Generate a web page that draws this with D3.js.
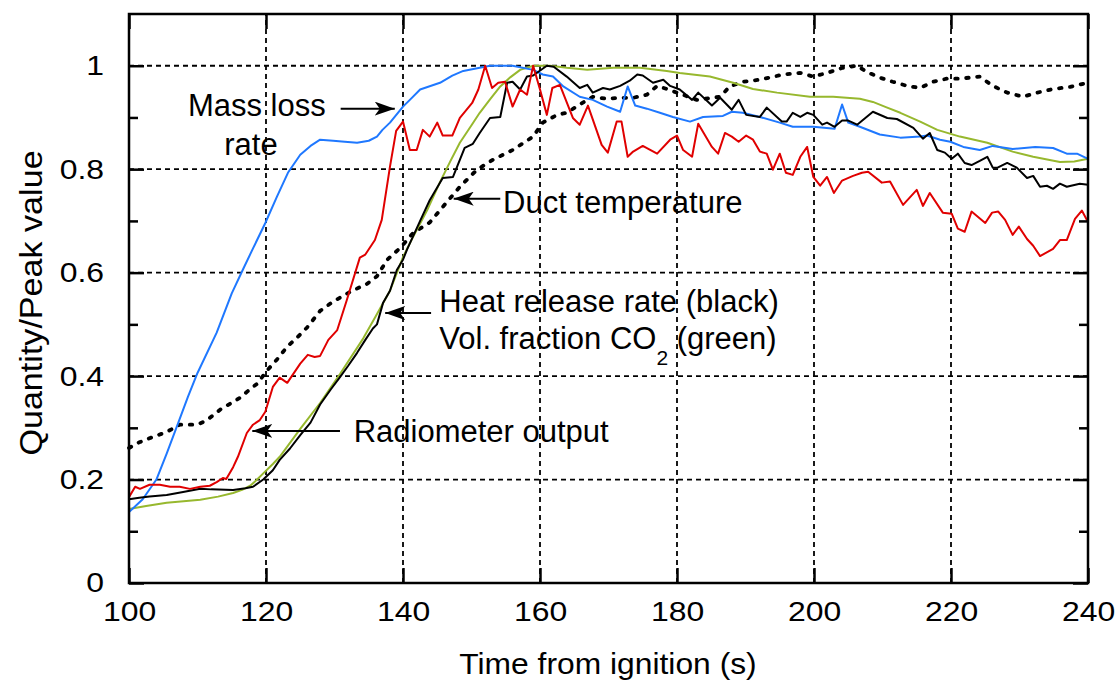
<!DOCTYPE html>
<html>
<head>
<meta charset="utf-8">
<script src="https://cdn.jsdelivr.net/npm/d3@7"></script>
<style>
  html, body { margin: 0; padding: 0; background: #fff; }
  svg text { font-family: "Liberation Sans", Arial, sans-serif; fill: #000; }
</style>
</head>
<body>
<div id="display"></div>
<script>
// Chart values (time in s, value as fraction of peak)
const xTicks = [100, 120, 140, 160, 180, 200, 220, 240];
const yTicks = [0, 0.2, 0.4, 0.6, 0.8, 1];
const yMinorTicks = [0.1, 0.3, 0.5, 0.7, 0.9];

const massLoss = [
  [100,0.137],[102,0.162],[104,0.2],[105.5,0.25],[107.2,0.31],[108.6,0.36],[110,0.406],[112.8,0.484],[115,0.56],
  [116.6,0.605],[118,0.644],[119.9,0.696],[121.6,0.747],[123.2,0.793],[125,0.828],[126.5,0.845],[127.9,0.857],
  [129.8,0.855],[131.5,0.853],[133.3,0.851],[135,0.855],[136.2,0.863],[137,0.876],[138.1,0.89],[140,0.921],
  [141,0.934],[142.5,0.954],[145.4,0.967],[147.2,0.981],[148.8,0.99],[151.2,0.996],[152.7,1.0],[156,1.0],
  [159,0.992],[160.4,0.983],[161.9,0.979],[163.4,0.96],[165.8,0.94],[167.7,0.934],[169.8,0.921],[171.7,0.911],
  [172.8,0.96],[173.9,0.923],[175.6,0.917],[177.5,0.909],[179.4,0.901],[181.9,0.892],[183.8,0.901],[186.7,0.903],
  [188,0.911],[189.6,0.909],[192.1,0.901],[195,0.89],[196.9,0.882],[199.9,0.882],[203,0.878],[204.1,0.925],
  [205,0.89],[206.7,0.882],[209.6,0.867],[212.6,0.861],[215.5,0.863],[216.5,0.865],[218.4,0.857],[219.9,0.853],
  [221.8,0.843],[224.2,0.837],[226.1,0.845],[229,0.839],[232.3,0.843],[234.9,0.841],[236.9,0.83],[238.4,0.83],[240,0.82]
];

const co2 = [
  [100,0.143],[102.5,0.149],[105.5,0.155],[110.4,0.161],[113,0.167],[115.2,0.174],[116.5,0.18],[117.7,0.188],
  [118.7,0.2],[119.6,0.212],[121,0.23],[122,0.244],[125,0.298],[127.9,0.348],[130.8,0.404],[134.2,0.473],
  [136,0.515],[138.1,0.565],[140,0.63],[141.5,0.67],[143.5,0.72],[145.4,0.775],[146.9,0.815],[148.3,0.851],
  [150,0.885],[151.2,0.909],[152.7,0.935],[154.2,0.96],[155.7,0.978],[157.1,0.992],[159,1.0],[161.5,1.0],
  [163.9,0.996],[166.9,0.992],[170.7,0.996],[174.6,0.996],[178.5,0.99],[180.4,0.986],[184.8,0.979],[188.2,0.967],
  [191.1,0.955],[194.6,0.948],[199.4,0.94],[202.8,0.94],[206.7,0.936],[208.6,0.93],[210.5,0.92],[212.6,0.909],
  [215.5,0.892],[218,0.876],[221.3,0.863],[225.3,0.851],[229,0.834],[232,0.824],[235.9,0.814],[238,0.815],[240,0.82]
];

const heatRelease = [
  [100,0.162],[101.5,0.165],[103,0.167],[105.5,0.17],[107.9,0.176],[110.4,0.182],[112,0.181],[115.2,0.18],
  [117,0.183],[118.1,0.186],[119.6,0.2],[121,0.218],[122,0.238],[123.5,0.26],[125,0.286],[126.5,0.31],
  [127.9,0.345],[129.5,0.375],[130.8,0.398],[132,0.42],[133.3,0.445],[134.5,0.47],[135.6,0.492],[136.2,0.5],
  [137.1,0.542],[138.1,0.565],[139.1,0.605],[140,0.625],[140.6,0.645],[142.5,0.7],[143.9,0.74],[145.8,0.783],
  [147.3,0.785],[149,0.841],[150.2,0.849],[151.2,0.87],[152.7,0.899],[154.2,0.901],[155.2,0.967],[156,0.969],
  [157.1,0.954],[158.1,0.979],[159,0.981],[161,1.0],[162,0.998],[163.9,0.979],[165.8,0.957],[166.9,0.963],
  [167.7,0.948],[169.2,0.957],[170.2,0.954],[171.7,0.961],[173.1,0.971],[174.2,0.983],[175,0.981],[176.5,0.967],
  [178,0.973],[179,0.961],[180.4,0.954],[182.2,0.934],[183.1,0.948],[185.1,0.923],[186.3,0.938],[188,0.915],
  [189,0.934],[190.1,0.905],[192.1,0.901],[193.1,0.919],[195.3,0.892],[196,0.892],[196.9,0.909],[198,0.901],
  [199,0.909],[199.9,0.905],[201.2,0.886],[201.9,0.89],[203,0.882],[204.1,0.894],[205,0.894],[206.3,0.886],
  [208.6,0.911],[210.7,0.899],[212.1,0.897],[214.5,0.88],[215.9,0.859],[216.9,0.87],[218,0.837],[219.1,0.832],
  [220.1,0.82],[221,0.83],[222,0.812],[223,0.808],[224.2,0.816],[225.3,0.824],[226.1,0.803],[226.8,0.803],
  [228.2,0.812],[229.6,0.803],[231.1,0.783],[232,0.787],[233,0.766],[234,0.768],[234.9,0.762],[235.9,0.772],
  [236.9,0.766],[238.8,0.772],[240,0.77]
];

const radiometer = [
  [100,0.166],[100.9,0.186],[101.6,0.182],[103,0.19],[104.5,0.19],[106,0.186],[107.4,0.186],[108.9,0.182],
  [110.4,0.186],[111.8,0.188],[112.8,0.195],[113.7,0.203],[114.2,0.201],[115.2,0.224],[115.9,0.244],[117.2,0.29],
  [118.1,0.306],[119.1,0.315],[119.9,0.331],[121,0.379],[122,0.397],[123.1,0.387],[125,0.424],[126.1,0.441],
  [127.1,0.437],[127.9,0.439],[129.1,0.47],[130.4,0.489],[131.8,0.547],[133.7,0.629],[134.5,0.635],[135.9,0.663],
  [136.9,0.702],[138.1,0.805],[139,0.874],[140,0.892],[141,0.837],[142,0.837],[142.9,0.876],[143.9,0.863],
  [145,0.89],[145.8,0.865],[147.2,0.865],[148.3,0.899],[150.1,0.928],[151,0.954],[152,1.0],[153,0.957],
  [153.9,0.967],[154.9,0.969],[156,0.921],[157.1,0.954],[158.1,0.944],[159,1.0],[160,0.954],[161,0.905],
  [161.8,0.957],[162.9,0.963],[164.8,0.899],[165.8,0.886],[167,0.923],[169,0.847],[169.9,0.832],[171.2,0.892],
  [171.9,0.892],[172.8,0.824],[173.6,0.834],[175,0.845],[177.1,0.83],[179,0.857],[180,0.865],[180.9,0.837],
  [182.2,0.824],[183.1,0.888],[185.1,0.843],[186,0.83],[187,0.87],[188,0.863],[189,0.853],[190.1,0.865],
  [191.1,0.857],[192.1,0.834],[193.1,0.83],[194,0.799],[195,0.83],[195.9,0.793],[196.9,0.789],[198,0.824],
  [199,0.843],[199.9,0.785],[200.9,0.768],[201.9,0.785],[202.9,0.754],[204.1,0.778],[205.7,0.787],[207,0.793],
  [207.9,0.795],[209.9,0.774],[211.1,0.776],[213,0.731],[215,0.76],[215.9,0.729],[216.9,0.754],[218.8,0.716],
  [220.1,0.714],[221,0.685],[222,0.679],[223,0.718],[225,0.696],[226,0.716],[226.9,0.718],[227.9,0.702],
  [229,0.673],[229.9,0.689],[231.1,0.665],[232,0.652],[233,0.632],[234.9,0.646],[235.9,0.663],[236.9,0.663],
  [238.1,0.704],[239.1,0.72],[240,0.698]
];

const ductTemp = [
  [100,0.261],[101.5,0.272],[103,0.28],[105.5,0.292],[107.4,0.306],[110,0.306],[111.4,0.315],[113.3,0.335],
  [116.2,0.358],[117.7,0.375],[118.7,0.385],[120.1,0.41],[121.6,0.432],[123.1,0.457],[124.5,0.474],[126,0.494],
  [127.9,0.526],[129.8,0.544],[132.3,0.563],[134.7,0.578],[136.2,0.593],[137.7,0.625],[139.6,0.648],[141.5,0.677],
  [143.9,0.697],[145.8,0.727],[148.3,0.766],[150.8,0.799],[153.1,0.818],[156,0.837],[159,0.863],[160.4,0.89],
  [162.5,0.905],[163.9,0.909],[165.8,0.925],[167.7,0.94],[169.8,0.936],[171.7,0.938],[173.6,0.938],[175.6,0.944],
  [177.1,0.961],[178.5,0.955],[180,0.948],[182.9,0.934],[186.3,0.94],[187.7,0.96],[189.6,0.969],[192.1,0.973],
  [195.5,0.983],[198,0.986],[199.9,0.979],[201.9,0.986],[204.2,0.996],[206.3,1.0],[207.7,0.988],[209.6,0.977],
  [211.5,0.969],[213.6,0.961],[215.5,0.957],[217.4,0.969],[219.4,0.975],[221.3,0.975],[224.2,0.979],[226.1,0.961],
  [228.2,0.948],[230.5,0.94],[232.6,0.948],[234.9,0.955],[237.4,0.959],[239.3,0.965],[240,0.967]
];

// Annotation labels with their arrows, in data units (t, value)
const labels = [
  { lines: ["Mass loss"], x: 108.6, y: 0.902, from: [130.9, 0.917], to: [138.8, 0.917] },
  { lines: ["rate"], x: 113.9, y: 0.828 },
  { lines: ["Duct temperature"], x: 154.6, y: 0.716, from: [154.2, 0.743], to: [147.4, 0.743] },
  { lines: ["Heat release rate (black)"], x: 145.3, y: 0.524, from: [144.1, 0.522], to: [137.4, 0.522] },
  { lines: ["Radiometer output"], x: 132.8, y: 0.273, from: [130.8, 0.294], to: [118.0, 0.294] }
];

// Render settings
const width = 1117, height = 681;
const margin = { left: 129, right: 29, top: 14, bottom: 98 };

const svg = d3.select("#display").append("svg")
  .attr("width", width).attr("height", height);

const x = d3.scaleLinear().domain([100, 240]).range([margin.left, width - margin.right]);
const y = d3.scaleLinear().domain([0, 1.1]).range([height - margin.bottom, margin.top]);

// The reference lettering is a bit wider than Liberation Sans: stretch the glyphs horizontally
function widen(sel, k) {
  sel.each(function() {
    const len = this.getComputedTextLength();
    d3.select(this).attr("textLength", len * k).attr("lengthAdjust", "spacingAndGlyphs");
  });
}

// Dashed grid
const grid = svg.append("g").attr("stroke", "#000").attr("stroke-width", 1.8).attr("stroke-dasharray", "5,4");
grid.selectAll("line.v").data(xTicks.slice(1, -1)).join("line")
  .attr("x1", d => x(d)).attr("x2", d => x(d)).attr("y1", y(0)).attr("y2", y(1.1));
grid.selectAll("line.h").data(yTicks.slice(1)).join("line")
  .attr("x1", x(100)).attr("x2", x(240)).attr("y1", d => y(d)).attr("y2", d => y(d));

// Data lines
const line = d3.line().x(d => x(d[0])).y(d => y(d[1]));
const series = [
  { data: ductTemp, color: "#000", width: 3.8, dash: "2.5,8.5", cap: "round" },
  { data: co2, color: "#97b82e", width: 2 },
  { data: massLoss, color: "#1f78ff", width: 2 },
  { data: heatRelease, color: "#000", width: 2 },
  { data: radiometer, color: "#e00000", width: 2 }
];
svg.append("g").selectAll("path").data(series).join("path")
  .attr("fill", "none")
  .attr("stroke", d => d.color)
  .attr("stroke-width", d => d.width)
  .attr("stroke-dasharray", d => d.dash || null)
  .attr("stroke-linecap", d => d.cap || "butt")
  .attr("stroke-linejoin", "round")
  .attr("d", d => line(d.data));

// Axes: ticks pointing inwards on all four sides
const fontSize = 28;
const axisBottom = svg.append("g").attr("transform", `translate(0,${y(0)})`)
  .call(d3.axisBottom(x).tickValues(xTicks).tickSize(-15).tickPadding(18).tickFormat(d3.format("d")));
const axisTop = svg.append("g").attr("transform", `translate(0,${y(1.1)})`)
  .call(d3.axisTop(x).tickValues(xTicks).tickSize(-15).tickFormat(""));
const axisLeft = svg.append("g").attr("transform", `translate(${x(100)},0)`)
  .call(d3.axisLeft(y).tickValues(yTicks).tickSize(-15).tickPadding(25).tickFormat(d => d === 0 || d === 1 ? d : d3.format(".1f")(d)));
const axisLeftMinor = svg.append("g").attr("transform", `translate(${x(100)},0)`)
  .call(d3.axisLeft(y).tickValues(yMinorTicks).tickSize(-9).tickFormat(""));
const axisRight = svg.append("g").attr("transform", `translate(${x(240)},0)`)
  .call(d3.axisRight(y).tickValues(yTicks).tickSize(-15).tickFormat(""));
const axisRightMinor = svg.append("g").attr("transform", `translate(${x(240)},0)`)
  .call(d3.axisRight(y).tickValues(yMinorTicks).tickSize(-9).tickFormat(""));

[axisBottom, axisTop, axisLeft, axisLeftMinor, axisRight, axisRightMinor].forEach(a => {
  a.select(".domain").remove();
  a.selectAll(".tick line").attr("stroke", "#000").attr("stroke-width", 2.5);
  a.selectAll(".tick text").attr("font-size", fontSize)
    .attr("font-family", "'Liberation Sans', Arial, sans-serif")
    .call(widen, 1.14);
});

// Plot frame
svg.append("rect")
  .attr("x", x(100)).attr("y", y(1.1))
  .attr("width", x(240) - x(100)).attr("height", y(0) - y(1.1))
  .attr("fill", "none").attr("stroke", "#000").attr("stroke-width", 2.5);

// Axis titles
svg.append("text")
  .attr("x", 608).attr("y", 674)
  .attr("text-anchor", "middle").attr("font-size", 30)
  .text("Time from ignition (s)")
  .call(widen, 1.06);
svg.append("text")
  .attr("transform", `translate(42,303) rotate(-90)`)
  .attr("text-anchor", "middle").attr("font-size", 31)
  .text("Quantity/Peak value")
  .call(widen, 1.1);

// Arrow head marker
svg.append("defs").append("marker")
  .attr("id", "head").attr("markerUnits", "userSpaceOnUse")
  .attr("viewBox", "0 0 20 14").attr("refX", 20).attr("refY", 7)
  .attr("markerWidth", 20).attr("markerHeight", 14).attr("orient", "auto")
  .append("path").attr("d", "M0,0 L20,7 L0,14 L5,7 Z").attr("fill", "#000");

// Annotations
const ann = svg.append("g").attr("font-size", 31);
labels.forEach(l => {
  ann.append("text").attr("x", x(l.x)).attr("y", y(l.y)).text(l.lines[0]);
  if (l.from) {
    ann.append("line")
      .attr("x1", x(l.from[0])).attr("y1", y(l.from[1]))
      .attr("x2", x(l.to[0])).attr("y2", y(l.to[1]))
      .attr("stroke", "#000").attr("stroke-width", 2)
      .attr("marker-end", "url(#head)");
  }
});

// Second line of the heat release label, with CO2 subscript
const co2Label = ann.append("text").attr("x", x(145.3)).attr("y", y(0.453));
co2Label.append("tspan").text("Vol. fraction CO");
co2Label.append("tspan").attr("dy", 16).attr("font-size", 21).text("2");
co2Label.append("tspan").attr("dy", -16).text(" (green)");
</script>
</body>
</html>
